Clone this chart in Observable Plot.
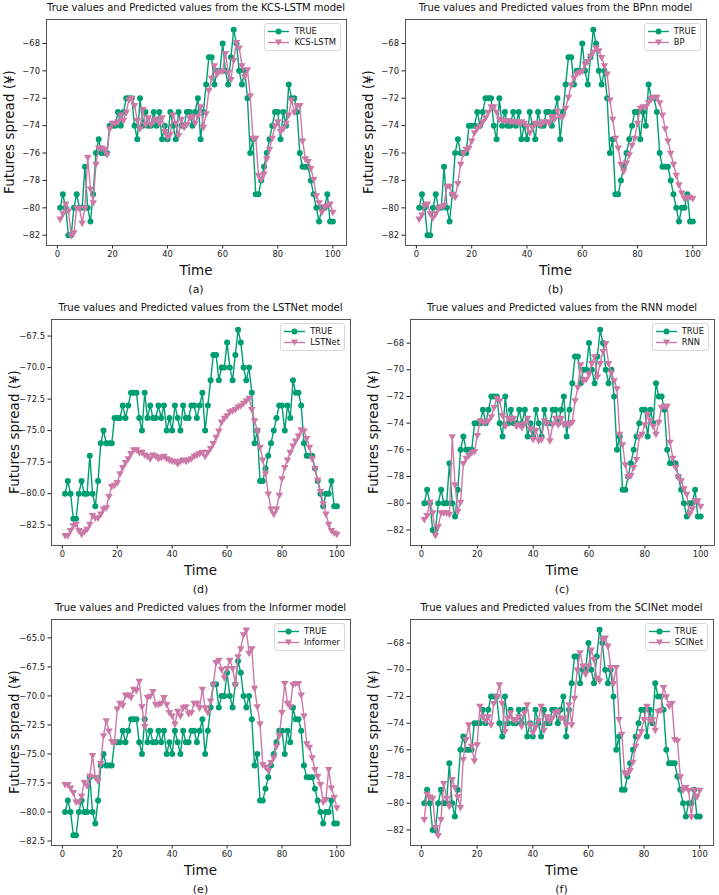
<!DOCTYPE html>
<html><head><meta charset="utf-8">
<script src="https://cdn.jsdelivr.net/npm/d3@7"></script>
<script src="https://cdn.jsdelivr.net/npm/@observablehq/plot@0.6"></script>
<style>
body{margin:0;background:#fff;}
#fig{position:relative;width:719px;height:895px;background:#fff;font-family:"DejaVu Sans",sans-serif;color:#111;overflow:hidden}
.abs{position:absolute;white-space:nowrap;line-height:1}
.title{font-size:10px;transform:translate(-50%,-50%)}
.xlab{font-size:13.5px;transform:translate(-50%,-50%)}
.cap{font-size:11px;transform:translate(-50%,-50%)}
.ylab{font-size:13.5px;transform:translate(-50%,-50%) rotate(-90deg)}
.legend{position:absolute;border:1px solid #d8d8d8;border-radius:3px;background:rgba(255,255,255,0.85);font-size:8.4px;padding:2px 4px 2px 3px;line-height:11px}
.legend div{display:flex;align-items:center;white-space:nowrap}
.legend svg{margin-right:5px}
</style></head><body><div id="fig"></div>
<script>
// ---- data ----
const timeIdx = d3.range(1, 101);
const trueVals = [-80,-79,-80,-82,-82,-80,-79,-80,-80,-77,
 -80,-81,-79,-76,-75,-76,-76,-76,-74,-74,
 -74,-73,-74,-73,-72,-72,-72,-74,-75,-72,
 -74,-73,-74,-74,-73,-74,-73,-75,-74,-75,
 -73,-74,-75,-73,-74,-74,-73,-73,-74,-73,
 -72,-75,-73,-71,-69,-69,-71,-70,-70,-68,
 -70,-71,-69,-67,-68,-70,-71,-70,-72,-76,
 -75,-79,-79,-78,-77,-76,-75,-74,-73,-73,
 -75,-73,-74,-71,-72,-72,-73,-76,-77,-77,
 -77,-78,-79,-80,-81,-80,-80,-79,-81,-81];
const predKCS = [-80.8,-80.4,-79.7,-80.2,-82,-81.8,-80,-80,-81.1,-80,
 -76.3,-78.6,-79.6,-76.8,-75.6,-75.6,-75.7,-76.1,-74.2,-73.8,
 -73.8,-73.7,-73.2,-73.6,-73,-72.1,-72,-72.5,-73.6,-74.2,
 -72.8,-73.9,-73.4,-73.9,-73.6,-73.5,-73.8,-73.4,-74.4,-74.8,
 -74.6,-73.2,-73.8,-74.7,-73.5,-74.1,-73.9,-73.4,-73.3,-73.8,
 -73.3,-72.6,-74.1,-73.1,-71.4,-70.5,-69.6,-70.2,-70,-70,
 -68.7,-70.1,-70.6,-69.2,-67.9,-68.3,-69.6,-70.4,-69.9,-71.8,
 -74.9,-74.9,-77.6,-77.9,-77.5,-76.4,-75.7,-74.9,-74,-73.7,
 -74.4,-74.2,-73.8,-73.2,-72.1,-73,-72.5,-72.5,-75.1,-76.4,
 -76.6,-77.1,-77.9,-79.1,-79.6,-80.3,-79.9,-79.8,-79.7,-80.3];
const predBP = [-80.8,-80.5,-79.8,-79.7,-80.4,-80.7,-80.4,-80,-79.9,-79.8,
 -78.4,-78.4,-79,-79.2,-78.2,-76.8,-76,-75.7,-75.6,-75.1,
 -74.5,-74.2,-74,-73.7,-73.4,-73,-72.6,-72.6,-73,-73.5,
 -73.6,-73.6,-73.6,-73.7,-73.7,-73.7,-73.8,-73.7,-73.8,-74,
 -74.5,-74.1,-73.8,-73.8,-73.9,-73.7,-73.7,-73.8,-73.3,-73.5,
 -72.9,-73.3,-73.3,-72.7,-71.9,-71,-70.5,-70.2,-70.1,-70,
 -69.5,-69.3,-68.9,-68.6,-68.3,-68.5,-69,-69.6,-70.2,-72.1,
 -73.5,-74.9,-75.6,-76.8,-77.3,-76.7,-76.1,-75.4,-74.9,-73.8,
 -72.7,-72.6,-72.6,-72.3,-72,-71.9,-71.9,-72.3,-73.2,-74.2,
 -75.1,-76,-76.8,-77.6,-78.3,-78.9,-79.3,-79.2,-79.2,-79.3];
const predLSTNet = [-83.3,-83.3,-82.9,-82.5,-82.4,-82.9,-83.2,-83,-82.8,-82.4,
 -81.7,-81.9,-81.9,-81.6,-81.2,-81.1,-80.2,-79.4,-79.3,-79.1,
 -78.4,-77.9,-77.5,-77.2,-76.8,-76.5,-76.5,-76.7,-76.7,-76.9,
 -77,-77.2,-76.9,-77,-77.2,-77.1,-77,-77.2,-77.3,-77.4,
 -77.4,-77.6,-77.4,-77.3,-77.4,-77.3,-77.2,-77,-76.9,-76.8,
 -76.7,-77,-76.7,-76.4,-76,-75.5,-75,-74.3,-74,-73.8,
 -73.5,-73.4,-73.3,-73.1,-73,-72.8,-72.6,-72.4,-73.3,-74.2,
 -75,-76.3,-77.3,-78.4,-80,-81.2,-81.6,-81.2,-80.1,-78.8,
 -77.9,-77.3,-76.7,-76.2,-75.8,-75.4,-74.9,-75,-75.6,-76.3,
 -77.2,-78,-78.9,-79.8,-80.8,-81.6,-82.4,-82.9,-83.1,-83.2];
const predRNN = [-81.2,-80.9,-79.9,-80.7,-82.4,-81.7,-80.7,-80.7,-80.7,-80.8,
 -75,-78.6,-80.6,-79.9,-77,-76.6,-76.4,-76.2,-76.1,-74.9,
 -73.8,-73.9,-73.9,-73.8,-73.5,-72.8,-72.1,-72.3,-73.4,-74.2,
 -73.6,-73.7,-73.6,-74.2,-74.1,-74.3,-74,-73.6,-74.4,-75.2,
 -74.5,-75.3,-75.2,-73.8,-74,-75.3,-74.1,-73.6,-74.1,-73.6,
 -74.1,-74,-74.1,-73.9,-72.3,-71.3,-69.6,-70.8,-70.7,-70.3,
 -69.5,-69,-70.5,-69.5,-68.6,-68,-69.5,-70.2,-70.8,-71.4,
 -74.8,-75.6,-77.1,-78,-77.9,-77.3,-76.7,-75,-74.8,-74.1,
 -73.3,-73.8,-74.2,-74.8,-73.9,-72.8,-72.7,-72.7,-75.4,-76.6,
 -77.3,-78,-78.3,-78.9,-79.3,-80.8,-80.4,-79.8,-79.8,-80.2];
const predInformer = [-77.6,-77.6,-77.9,-78.3,-79.1,-79.1,-78.6,-77.4,-77.7,-76.9,
 -75.1,-77,-77.3,-75.8,-73.4,-72.1,-73,-73.9,-74,-71.1,
 -70.6,-70.8,-69.9,-69.9,-70.1,-69.4,-69.5,-68.7,-70.9,-72.6,
 -70.1,-70,-69.6,-70.7,-70.7,-70.6,-70.1,-70.7,-71.4,-71.7,
 -72.4,-71.3,-71.7,-71,-70.9,-71.5,-71.4,-70.6,-70.6,-71,
 -69.4,-71,-71.4,-70.4,-69,-67.1,-66.9,-67.7,-68.4,-67.6,
 -66.9,-67.6,-69,-66.6,-65.9,-64.7,-64.3,-66.3,-65.9,-69.3,
 -70.9,-72.4,-75.9,-76.1,-76.4,-75.7,-75.3,-74.3,-73.4,-71.4,
 -68.9,-70.6,-70.9,-69,-68.9,-68.9,-69.9,-71.7,-74.1,-74.4,
 -75.3,-76.3,-76.9,-77.6,-79.1,-78.9,-76.3,-77.9,-78.7,-79.6];
const predSCINet = [-81.2,-79.3,-79.5,-79.6,-81.8,-82.4,-81.2,-78.5,-79.6,-80.2,
 -78.2,-78.8,-79.5,-80.3,-76.7,-75.2,-74.1,-75.7,-76.8,-75.6,
 -72.7,-73.5,-73.8,-73.5,-74.1,-72.5,-72,-71.1,-72.5,-74.6,
 -73.6,-73.2,-73.7,-73.8,-73.5,-74.2,-73.2,-72.6,-74.1,-74.7,
 -74.3,-73.8,-72.7,-74.5,-73.5,-73.8,-73.6,-73.2,-73.1,-73.6,
 -73.6,-74.1,-72.6,-74.1,-72.1,-70,-68.7,-69.7,-70.3,-69.7,
 -68.5,-69.2,-70.6,-70.8,-67.7,-67.6,-68.2,-69.8,-71,-69.8,
 -73.7,-74.8,-77.7,-77.8,-77.5,-76.9,-75.7,-75,-74.6,-73.7,
 -72.7,-73.8,-73.7,-74.5,-73.1,-73,-71.3,-72,-72.7,-72.5,
 -75.2,-75.3,-78,-79,-78.8,-79,-81,-79,-79.5,-79];
const xTicks = [0, 20, 40, 60, 80, 100];
const yTicksInt = [-82, -80, -78, -76, -74, -72, -70, -68];
const yTicksLSTNet = [-82.5, -80, -77.5, -75, -72.5, -70, -67.5];
const yTicksInformer = [-82.5, -80, -77.5, -75, -72.5, -70, -67.5, -65];
const modelNames = ["KCS-LSTM", "BP", "LSTNet", "RNN", "Informer", "SCINet"];
const titleNames = ["KCS-LSTM", "BPnn", "LSTNet", "RNN", "Informer", "SCINet"];
const captions = ["(a)", "(b)", "(d)", "(c)", "(e)", "(f)"];

// ---- layout ----
const GREEN = "#009E73", PINK = "#CC79A7";
const preds = [predKCS, predBP, predLSTNet, predRNN, predInformer, predSCINet];
const tickSets = [yTicksInt, yTicksInt, yTicksLSTNet, yTicksInt, yTicksInformer, yTicksInt];
const fmts = ["d", "d", ".1f", "d", ".1f", "d"];
const boxes = [ // axes left, top, width
  [46, 19, 300], [405, 19, 301],
  [51, 319, 299], [410, 319, 304],
  [51, 619, 299], [410, 619, 303]
];
const H = 226, mL = 40, mR = 2, mT = 2, mB = 16;
const fig = document.getElementById("fig");

function addText(cls, txt, x, y) {
  const d = document.createElement("div");
  d.className = "abs " + cls; d.textContent = txt;
  d.style.left = x + "px"; d.style.top = y + "px";
  fig.appendChild(d);
}
function handle(color, tri) {
  const ns = "http://www.w3.org/2000/svg";
  const s = document.createElementNS(ns, "svg");
  s.setAttribute("width", 21); s.setAttribute("height", 9);
  const l = document.createElementNS(ns, "line");
  l.setAttribute("x1", 0); l.setAttribute("x2", 21); l.setAttribute("y1", 4.5); l.setAttribute("y2", 4.5);
  l.setAttribute("stroke", color); l.setAttribute("stroke-width", 1.4);
  s.appendChild(l);
  if (tri) {
    const p = document.createElementNS(ns, "path");
    p.setAttribute("d", "M7,1.5 L14,1.5 L10.5,7.8 Z"); p.setAttribute("fill", color);
    s.appendChild(p);
  } else {
    const c = document.createElementNS(ns, "circle");
    c.setAttribute("cx", 10.5); c.setAttribute("cy", 4.5); c.setAttribute("r", 3); c.setAttribute("fill", color);
    s.appendChild(c);
  }
  return s;
}

preds.forEach((pred, k) => {
  const [left, top, w] = boxes[k];
  const trueData = timeIdx.map((t, i) => ({t, v: trueVals[i]}));
  const predData = timeIdx.map((t, i) => ({t, v: pred[i]}));
  const [lo, hi] = d3.extent(trueVals.concat(pred));
  const pad = (hi - lo) * 0.05;
  const svg = Plot.plot({
    width: w + mL + mR, height: H + mT + mB,
    marginLeft: mL, marginRight: mR, marginTop: mT, marginBottom: mB,
    x: {domain: [-3.95, 104.95], label: null},
    y: {domain: [lo - pad, hi + pad], label: null},
    style: {fontFamily: "DejaVu Sans", fontSize: "8.4px", color: "#222", background: "transparent", overflow: "visible"},
    marks: [
      Plot.axisX({ticks: xTicks, tickSize: 3.5, tickPadding: 2, label: null, tickFormat: "d"}),
      Plot.axisY({ticks: tickSets[k], tickSize: 3.5, tickPadding: 3, label: null, tickFormat: d3.format(fmts[k])}),
      Plot.line(trueData, {x: "t", y: "v", stroke: GREEN, strokeWidth: 1.4}),
      Plot.dot(trueData, {x: "t", y: "v", fill: GREEN, r: 3, symbol: "circle"}),
      Plot.line(predData, {x: "t", y: "v", stroke: PINK, strokeWidth: 1.4}),
      Plot.dot(predData, {x: "t", y: "v", fill: PINK, r: 2.8, symbol: "triangle", rotate: 180}),
      Plot.frame({stroke: "#444", strokeWidth: 0.9})
    ]
  });
  svg.style.position = "absolute";
  svg.style.left = (left - mL) + "px";
  svg.style.top = (top - mT) + "px";
  fig.appendChild(svg);

  const cx = left + w / 2;
  addText("title", "True values and Predicted values from the " + titleNames[k] + " model", cx, top - 11);
  addText("xlab", "Time", cx, top + H + 26);
  addText("cap", captions[k], cx, top + H + 44);
  addText("ylab", "Futures spread (¥)", left - 36, top + H / 2);

  const lg = document.createElement("div");
  lg.className = "legend";
  const r1 = document.createElement("div"); r1.appendChild(handle(GREEN, false)); r1.appendChild(document.createTextNode("TRUE"));
  const r2 = document.createElement("div"); r2.appendChild(handle(PINK, true)); r2.appendChild(document.createTextNode(modelNames[k]));
  lg.appendChild(r1); lg.appendChild(r2);
  lg.style.top = (top + 4) + "px";
  lg.style.right = (719 - (left + w) + 5) + "px";
  fig.appendChild(lg);
});
</script></body></html>
